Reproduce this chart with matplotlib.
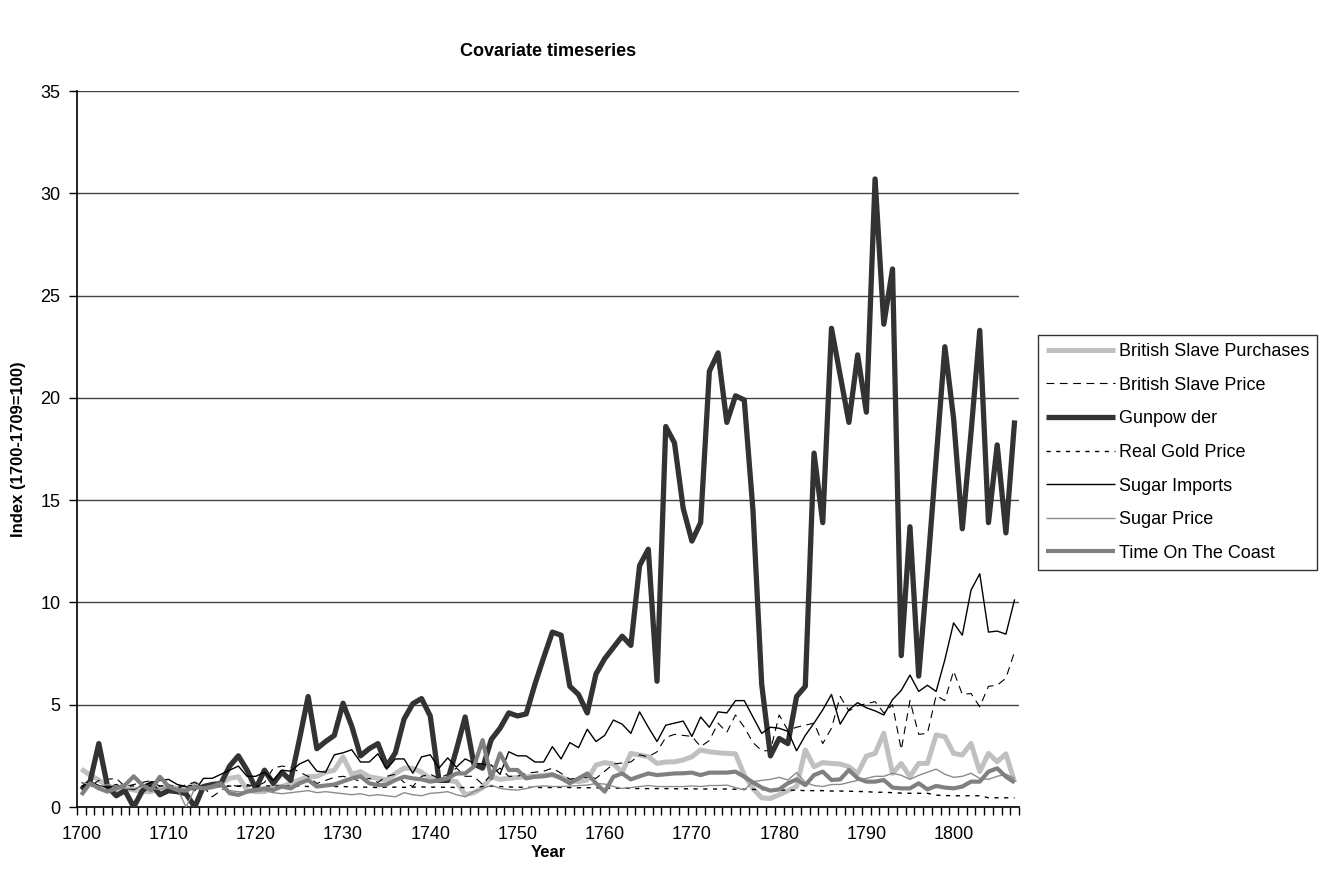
import matplotlib
matplotlib.use("Agg")
import matplotlib.pyplot as plt
from matplotlib.ticker import FixedLocator, NullFormatter

plt.rcParams['font.family'] = ['Liberation Sans', 'DejaVu Sans']

years = list(range(1700, 1808))

british_slave_purchases = [
    1.85, 1.56, 1.32, 1.0, 0.83, 0.91, 0.83, 0.75, 0.75, 0.91,
    1.0, 0.91, 0.86, 1.16, 0.91, 1.0, 1.16, 1.4, 1.48, 0.83,
    0.75, 0.75, 1.0, 1.0, 1.16, 1.32, 1.48, 1.5, 1.7, 1.8,
    2.45, 1.6, 1.73, 1.48, 1.4, 1.32, 1.64, 1.9, 1.89, 1.7,
    1.4, 1.35, 1.3, 1.24, 0.6, 0.7, 0.95, 1.48, 1.35, 1.4,
    1.45, 1.48, 1.5, 1.55, 1.56, 1.45, 1.3, 1.24, 1.32, 2.05,
    2.17, 2.1, 1.7, 2.62, 2.54, 2.46, 2.13, 2.2, 2.21, 2.3,
    2.46, 2.79, 2.7, 2.65, 2.62, 2.6, 1.56, 0.9, 0.45, 0.42,
    0.6, 0.8, 1.0, 2.79, 1.97, 2.17, 2.13, 2.1, 1.97, 1.64,
    2.49, 2.62, 3.6, 1.64, 2.13, 1.48, 2.13, 2.13, 3.52, 3.44,
    2.62, 2.54, 3.11, 1.73, 2.62, 2.21, 2.6, 1.2]

british_slave_price = [
    1.2, 1.0, 1.3, 1.35, 1.4, 1.0, 1.1, 1.2, 1.3, 1.0,
    1.1, 0.9, 1.1, 1.2, 1.0, 0.5, 0.8, 1.1, 1.0, 1.1,
    1.0, 1.2, 1.9, 2.0, 1.95, 1.7, 1.5, 1.15, 1.3, 1.45,
    1.5, 1.4, 1.25, 1.4, 1.2, 1.5, 1.6, 1.2, 1.0, 1.5,
    1.6, 1.4, 1.6, 1.9, 1.5, 1.5, 1.1, 1.6, 1.9, 1.5,
    1.5, 1.65, 1.7, 1.75, 1.9, 1.65, 1.35, 1.45, 1.45, 1.4,
    1.75, 2.1, 2.15, 2.2, 2.55, 2.45, 2.7, 3.4, 3.55, 3.5,
    3.45, 2.95, 3.25, 4.1, 3.65, 4.5, 3.9, 3.15, 2.75, 2.75,
    4.5, 3.75, 3.9, 4.0, 4.1, 3.1, 3.85, 5.4, 4.7, 4.95,
    5.05, 5.15, 4.6, 5.0, 2.8, 5.2, 3.55, 3.6, 5.45, 5.2,
    6.65, 5.5, 5.55, 4.9, 5.9, 5.95, 6.3, 7.6]

gunpowder = [
    0.85, 1.25, 3.1, 1.0, 0.55, 0.8, 0.0, 0.8, 1.15, 0.6,
    0.8, 0.75, 0.65, 0.0, 1.0, 1.1, 1.15, 2.0, 2.5, 1.8,
    0.9, 1.8, 1.15, 1.7, 1.3, 3.3, 5.4, 2.85, 3.2, 3.5,
    5.07, 3.95, 2.5, 2.85, 3.1, 2.0, 2.65, 4.3, 5.05, 5.3,
    4.45, 1.3, 1.3, 2.8, 4.4, 2.1, 1.9, 3.3, 3.85, 4.6,
    4.45, 4.55, 6.0, 7.3, 8.55, 8.4, 5.9, 5.5, 4.6, 6.5,
    7.25, 7.8, 8.35, 7.9, 11.8, 12.6, 6.15, 18.6, 17.8, 14.6,
    13.0, 13.9, 21.3, 22.2, 18.8, 20.1, 19.9, 14.5, 6.0, 2.5,
    3.35, 3.1, 5.4, 5.9, 17.3, 13.9, 23.4, 21.1, 18.8, 22.1,
    19.3, 30.7, 23.6, 26.3, 7.4, 13.7, 6.4, 11.5, 17.0, 22.5,
    19.0, 13.6, 18.3, 23.3, 13.9, 17.7, 13.4, 18.9]

real_gold_price = [
    1.0, 1.02, 1.0, 1.03, 1.0, 1.02, 1.03, 1.03, 1.03, 1.03,
    1.03, 1.03, 1.03, 1.05, 1.02, 1.02, 1.0, 1.02, 1.03, 1.03,
    1.02, 1.03, 1.03, 1.02, 1.03, 1.03, 1.0, 1.0, 1.02, 1.0,
    1.0, 0.98, 0.97, 0.97, 0.95, 0.97, 0.97, 0.96, 0.97, 0.98,
    0.97, 0.97, 0.96, 0.96, 0.95, 0.96, 1.0, 1.02, 1.0, 0.98,
    0.97, 0.96, 0.96, 0.95, 0.95, 0.96, 0.95, 0.94, 0.94, 0.94,
    0.92, 0.92, 0.92, 0.91, 0.9, 0.9, 0.9, 0.9, 0.89, 0.89,
    0.89, 0.88, 0.88, 0.88, 0.88, 0.87, 0.87, 0.86, 0.85, 0.85,
    0.83, 0.82, 0.82, 0.8, 0.8, 0.8, 0.78, 0.78, 0.77, 0.76,
    0.75, 0.72, 0.72, 0.7, 0.68, 0.67, 0.67, 0.67, 0.58, 0.56,
    0.55, 0.55, 0.55, 0.55, 0.45, 0.45, 0.45, 0.45]

sugar_imports = [
    1.0, 1.25, 1.05, 0.95, 1.1, 0.9, 0.85, 1.05, 1.2, 1.3,
    1.35, 1.1, 1.0, 0.8, 1.4, 1.4, 1.6, 1.8, 2.0, 1.5,
    1.5, 1.7, 1.3, 1.8, 1.75, 2.1, 2.3, 1.75, 1.7, 2.55,
    2.65, 2.8, 2.2, 2.2, 2.6, 1.85, 2.35, 2.35, 1.65, 2.45,
    2.55, 1.9, 2.4, 1.95, 2.35, 2.15, 2.1, 2.05, 1.6, 2.7,
    2.5, 2.5, 2.2, 2.2, 2.95, 2.35, 3.15, 2.9, 3.8, 3.2,
    3.5, 4.25, 4.05, 3.6, 4.65, 3.9, 3.2, 4.0, 4.1, 4.2,
    3.45, 4.4, 3.9, 4.65, 4.6, 5.2, 5.2, 4.4, 3.6, 3.9,
    3.85, 3.7, 2.75, 3.5, 4.1, 4.75, 5.5, 4.05, 4.75, 5.1,
    4.85, 4.7, 4.5, 5.25, 5.7, 6.45, 5.65, 5.95, 5.65, 7.2,
    9.0, 8.4, 10.6, 11.4, 8.55, 8.6, 8.45, 10.15]

sugar_price = [
    1.2, 1.1, 1.0, 1.1, 1.0, 0.9, 0.9, 1.0, 0.9, 0.85,
    1.0, 0.9, 0.0, 0.9, 0.85, 0.9, 1.0, 0.8, 0.75, 0.7,
    0.75, 0.8, 0.7, 0.65, 0.7, 0.75, 0.8, 0.7, 0.75, 0.7,
    0.65, 0.6, 0.65, 0.55, 0.6, 0.55, 0.5, 0.7, 0.6, 0.55,
    0.67, 0.7, 0.75, 0.6, 0.5, 0.75, 0.9, 1.07, 0.91, 0.85,
    0.83, 0.9, 1.0, 1.03, 1.0, 1.0, 1.02, 1.05, 1.07, 1.15,
    1.12, 1.0, 0.91, 0.95, 1.0, 1.05, 1.0, 1.0, 1.0, 1.0,
    1.03, 1.0, 1.05, 1.05, 1.07, 0.95, 0.83, 1.24, 1.3, 1.35,
    1.45, 1.32, 1.68, 1.2, 1.05, 1.0, 1.1, 1.1, 1.2, 1.3,
    1.4, 1.5, 1.5, 1.65, 1.55, 1.35, 1.55, 1.7, 1.85, 1.6,
    1.45, 1.5, 1.65, 1.4, 1.35, 1.5, 1.6, 1.4]

time_on_the_coast = [
    0.59, 1.16, 0.91, 0.75, 0.91, 1.07, 1.5, 1.07, 0.83, 1.48,
    1.0, 0.83, 0.8, 1.0, 0.91, 1.0, 1.16, 0.67, 0.59, 0.75,
    0.83, 0.91, 0.83, 1.0, 0.91, 1.16, 1.32, 1.0, 1.05, 1.1,
    1.25, 1.4, 1.5, 1.16, 1.07, 1.1, 1.32, 1.48, 1.4, 1.35,
    1.24, 1.3, 1.4, 1.64, 1.64, 1.97, 3.27, 1.4, 2.62, 1.81,
    1.81, 1.4, 1.48, 1.5, 1.6, 1.4, 1.16, 1.4, 1.64, 1.16,
    0.75, 1.48, 1.64, 1.35, 1.5, 1.64, 1.56, 1.6, 1.64, 1.65,
    1.68, 1.56, 1.68, 1.68, 1.68, 1.73, 1.48, 1.2, 0.95, 0.8,
    0.86, 1.16, 1.35, 1.07, 1.56, 1.73, 1.32, 1.35, 1.81, 1.4,
    1.24, 1.24, 1.32, 0.95, 0.91, 0.91, 1.16, 0.86, 1.03, 0.95,
    0.91, 1.0, 1.24, 1.24, 1.73, 1.89, 1.48, 1.2]

series_labels = ["British Slave Purchases", "British Slave Price", "Gunpow der",
                 "Real Gold Price", "Sugar Imports", "Sugar Price", "Time On The Coast"]
y_ticks = [0, 5, 10, 15, 20, 25, 30, 35]
x_label_years = [1700, 1710, 1720, 1730, 1740, 1750, 1760, 1770, 1780, 1790, 1800]

fig = plt.figure(figsize=(13.32, 8.86), dpi=100)
ax = fig.add_axes([77 / 1332, 1 - 807 / 886, (1019 - 77) / 1332, (807 - 91) / 886])

styles = [
    dict(color="#c0c0c0", lw=3.6, ls="-"),
    dict(color="black", lw=0.8, ls=(0, (7, 5))),
    dict(color="#333333", lw=3.8, ls="-"),
    dict(color="black", lw=1.0, ls=(0, (3, 4))),
    dict(color="black", lw=1.0, ls="-"),
    dict(color="#8c8c8c", lw=1.0, ls="-"),
    dict(color="#808080", lw=3.0, ls="-"),
]
data = [british_slave_purchases, british_slave_price, gunpowder, real_gold_price,
        sugar_imports, sugar_price, time_on_the_coast]
for vals, lab, st in zip(data, series_labels, styles):
    ax.plot(years, vals, label=lab, color=st["color"], lw=st["lw"], ls=st["ls"],
            solid_joinstyle="round", solid_capstyle="butt", zorder=3)

ax.set_xlim(1699.5, 1807.5)
ax.set_ylim(0, 35)
ax.set_yticks(y_ticks)
ax.yaxis.grid(True, color="#444444", lw=1.0, zorder=1)
ax.set_axisbelow(True)

ax.set_xticks(x_label_years)
ax.set_xticklabels([str(y) for y in x_label_years])
ax.tick_params(axis="x", which="major", length=0, pad=14, labelsize=13)
ax.xaxis.set_minor_locator(FixedLocator([y - 0.5 for y in years] + [years[-1] + 0.5]))
ax.xaxis.set_minor_formatter(NullFormatter())
ax.tick_params(axis="x", which="minor", length=6, width=1, direction="out", color="black")
ax.tick_params(axis="y", length=6, width=1, direction="out", labelsize=13, pad=6)

for s in ["top", "right"]:
    ax.spines[s].set_visible(False)
ax.spines["left"].set_linewidth(1.2)
ax.spines["bottom"].set_linewidth(1.2)

ax.set_xlabel("Year", fontsize=12, fontweight="bold", labelpad=1)
ax.set_ylabel("Index (1700-1709=100)", fontsize=12, fontweight="bold", labelpad=10)
ax.set_title("Covariate timeseries", fontsize=13, fontweight="bold", pad=25)

leg = fig.legend(loc="upper left", bbox_to_anchor=(1038 / 1332, 1 - 335 / 886),
                 fontsize=13, frameon=True, fancybox=False, edgecolor="black",
                 handlelength=3.8, handletextpad=0.22, labelspacing=0.92,
                 borderpad=0.45, borderaxespad=0)
leg.get_frame().set_linewidth(1.0)

fig.savefig("out.png", dpi=100)
